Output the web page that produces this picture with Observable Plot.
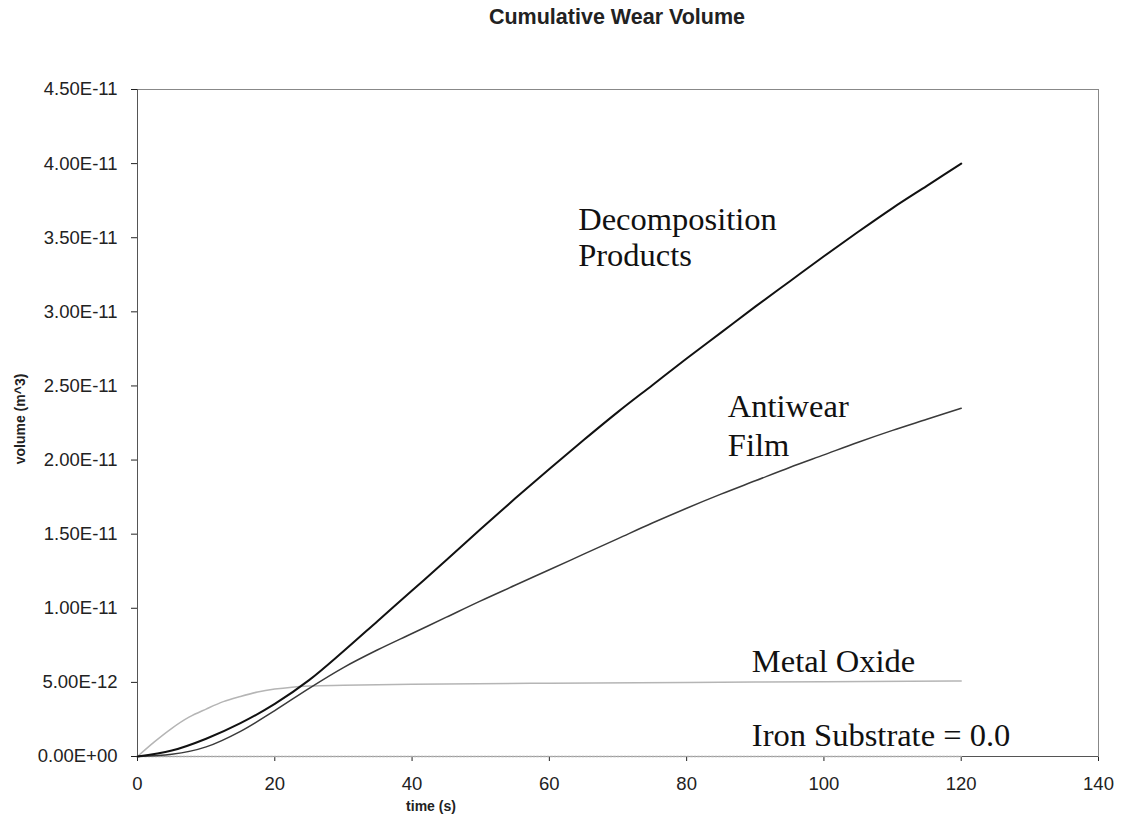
<!DOCTYPE html>
<html><head><meta charset="utf-8">
<script src="https://cdn.jsdelivr.net/npm/d3@7"></script>
<script src="https://cdn.jsdelivr.net/npm/@observablehq/plot@0.6"></script>
<style>
body{margin:0;background:#fff;width:1129px;height:824px;overflow:hidden;font-family:"Liberation Sans",Arial,sans-serif}
#title{margin-left:137px;width:960px;text-align:center;font-weight:bold;font-size:21.5px;line-height:34px;height:30px;color:#222}
</style></head><body>
<div id="title">Cumulative Wear Volume</div>
<div id="chart"></div>
<script>
// ---- data (m^3 vs time in s) ----
const timeA = [0,5,10,15,20,25,30,35,40,45,50,55,60,65,70,75,80,85,90,95,100,105,110,115,120];
const decomposition = [0,0.04e-11,0.12e-11,0.225e-11,0.355e-11,0.515e-11,0.71e-11,0.915e-11,1.12e-11,1.325e-11,1.535e-11,1.74e-11,1.94e-11,2.135e-11,2.325e-11,2.505e-11,2.685e-11,2.86e-11,3.035e-11,3.205e-11,3.375e-11,3.54e-11,3.70e-11,3.85e-11,4.00e-11];
const antiwear = [0,0.015e-11,0.065e-11,0.17e-11,0.31e-11,0.46e-11,0.60e-11,0.72e-11,0.83e-11,0.94e-11,1.05e-11,1.155e-11,1.26e-11,1.365e-11,1.47e-11,1.575e-11,1.675e-11,1.77e-11,1.86e-11,1.95e-11,2.035e-11,2.12e-11,2.20e-11,2.275e-11,2.35e-11];
const timeM = [0,2.5,5,7.5,10,12.5,15,17.5,20,22.5,25,30,40,60,80,100,120];
const metalOxide = [0,0.10e-11,0.19e-11,0.265e-11,0.32e-11,0.37e-11,0.405e-11,0.435e-11,0.455e-11,0.468e-11,0.475e-11,0.48e-11,0.487e-11,0.495e-11,0.50e-11,0.505e-11,0.51e-11];
const timeI = [0,120];
const ironSubstrate = [0,0];
const xTicks = [0,20,40,60,80,100,120,140];
const yTicks = [0,0.5e-11,1.0e-11,1.5e-11,2.0e-11,2.5e-11,3.0e-11,3.5e-11,4.0e-11,4.5e-11];
const annotationText = ["Decomposition","Products","Antiwear","Film","Metal Oxide","Iron Substrate = 0.0"];
const annotationT = [64.2,64.2,86.0,86.0,89.5,89.5];
const annotationV = [3.55e-11,3.31e-11,2.29e-11,2.03e-11,0.569e-11,0.074e-11];

// ---- tables ----
const toRows = (ts, vs) => ts.map((t,i)=>({t, v: vs[i]}));
const decRows = toRows(timeA, decomposition);
const antRows = toRows(timeA, antiwear);
const metRows = toRows(timeM, metalOxide);
const ironRows = toRows(timeI, ironSubstrate);
const annRows = annotationText.map((text,i)=>({text, t: annotationT[i], v: annotationV[i]}));

function fmt(v){
  const [m,e] = v.toExponential(2).split("e");
  const n = +e;
  return m + "E" + (n < 0 ? "-" : "+") + String(Math.abs(n)).padStart(2,"0");
}

const chart = Plot.plot({
  width: 1129, height: 794,
  marginLeft: 137, marginRight: 31, marginTop: 59, marginBottom: 68,
  style: {fontFamily: "'Liberation Sans', Arial, sans-serif", fontSize: "18.5px", color: "#222", background: "#fff"},
  x: {domain: [0,140], ticks: xTicks, tickSize: 5, tickPadding: 15, label: null},
  y: {domain: [0,4.5e-11], ticks: yTicks, tickFormat: fmt, tickSize: 6, tickPadding: 14, label: null},
  marks: [
    Plot.frame({stroke: "#888"}),
    Plot.ruleX([0], {stroke: "#555"}),
    Plot.ruleY([0], {stroke: "#555"}),
    Plot.line(ironRows, {x: "t", y: "v", stroke: "#aaa", strokeWidth: 1.5, strokeDasharray: "2,1.5"}),
    Plot.line(metRows, {x: "t", y: "v", stroke: "#b5b5b5", strokeWidth: 1.5, curve: "monotone-x"}),
    Plot.line(antRows, {x: "t", y: "v", stroke: "#3a3a3a", strokeWidth: 1.5, curve: "monotone-x"}),
    Plot.line(decRows, {x: "t", y: "v", stroke: "#111", strokeWidth: 2, curve: "monotone-x"}),
    Plot.text(annRows, {x: "t", y: "v", text: "text", textAnchor: "start", lineAnchor: "bottom",
      fontFamily: "'Liberation Serif', 'Times New Roman', serif", fontSize: 32.5, fill: "#111"}),
    Plot.text(["volume (m^3)"], {frameAnchor: "left", rotate: -90, dx: -117, dy: -4, textAnchor: "middle", lineAnchor: "middle", fontWeight: "bold", fontSize: 14, fill: "#222"}),
    Plot.text(["time (s)"], {frameAnchor: "bottom", dx: -187, dy: 50, textAnchor: "middle", lineAnchor: "middle", fontWeight: "bold", fontSize: 14, fill: "#222"})
  ]
});
document.getElementById("chart").appendChild(chart);
</script>
</body></html>
